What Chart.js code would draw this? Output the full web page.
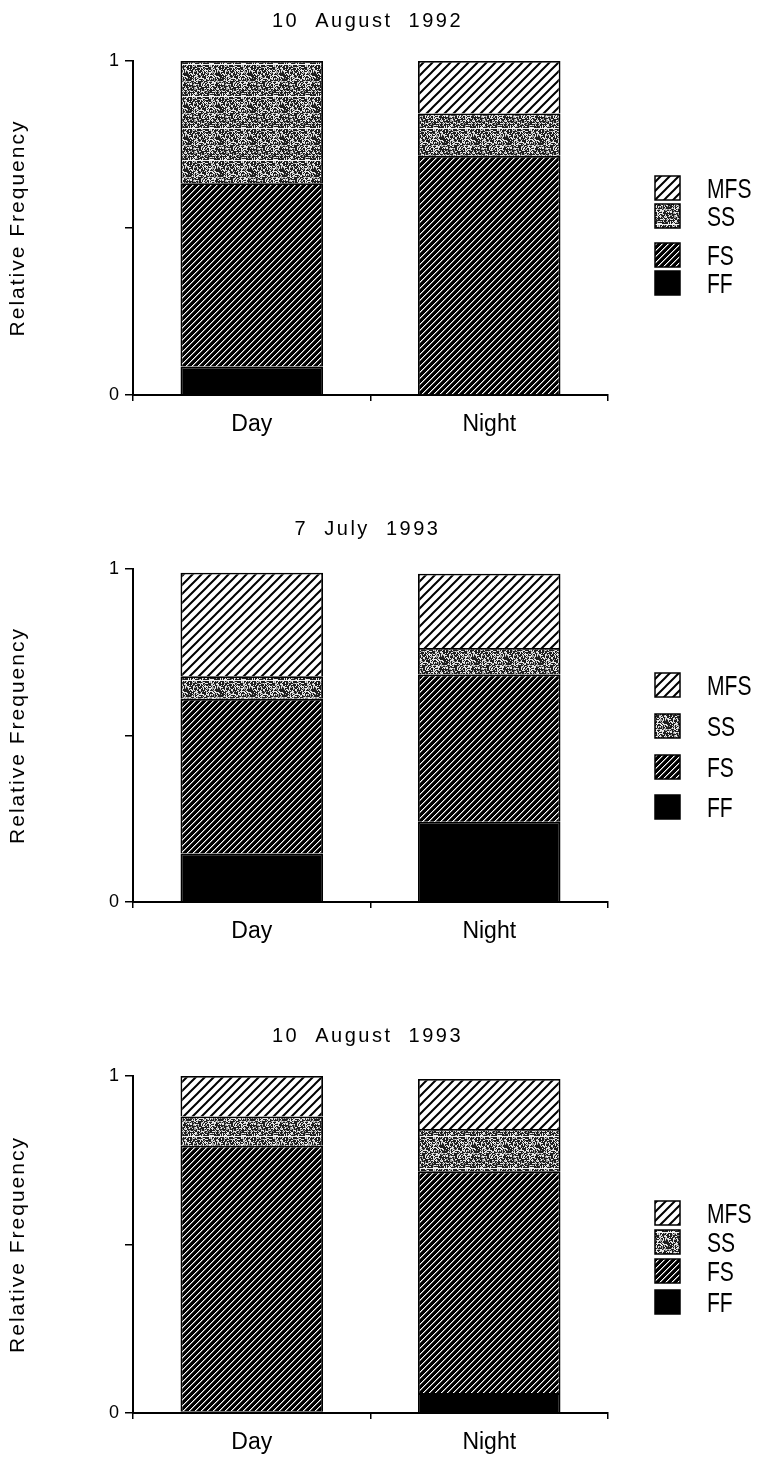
<!DOCTYPE html>
<html>
<head>
<meta charset="utf-8">
<script src="https://cdn.jsdelivr.net/npm/chart.js@4.4.1/dist/chart.umd.min.js"></script>
<style>
  html, body { margin: 0; padding: 0; background: #fff; }
  #page { position: relative; width: 760px; height: 1463px; overflow: hidden; }
  .panel { position: absolute; left: 0; width: 760px; }
  canvas { display: block; }
</style>
</head>
<body>
<div id="page">
  <div class="panel" style="top:0px"><canvas id="c0" width="760" height="488"></canvas></div>
  <div class="panel" style="top:488px"><canvas id="c1" width="760" height="488"></canvas></div>
  <div class="panel" style="top:976px"><canvas id="c2" width="760" height="487"></canvas></div>
</div>
<script>
// categories and series
const categories = ['Day', 'Night'];
const seriesNames = ['FF', 'FS', 'SS', 'MFS'];
const panelTitles = ['10  August  1992', '7  July  1993', '10  August  1993'];

// relative frequency per category (Day, Night)
const ffAug92 = [0.085, 0.0];
const fsAug92 = [0.549, 0.716];
const ssAug92 = [0.366, 0.127];
const mfsAug92 = [0.0, 0.157];

const ffJul93 = [0.146, 0.241];
const fsJul93 = [0.464, 0.442];
const ssJul93 = [0.068, 0.080];
const mfsJul93 = [0.311, 0.223];

const ffAug93 = [0.005, 0.059];
const fsAug93 = [0.788, 0.658];
const ssAug93 = [0.087, 0.126];
const mfsAug93 = [0.120, 0.148];

const yTicks = [0, 1];

const panelData = [
  [ffAug92, fsAug92, ssAug92, mfsAug92],
  [ffJul93, fsJul93, ssJul93, mfsJul93],
  [ffAug93, fsAug93, ssAug93, mfsAug93]
];

// layout of each canvas: plot top / bottom and legend row centres (canvas px)
const layouts = [
  { h: 488, top: 61, bottom: 395, legendY: [283, 255, 216, 188] },
  { h: 488, top: 81, bottom: 414, legendY: [319, 279, 238, 197] },
  { h: 487, top: 100, bottom: 437, legendY: [326, 295, 266, 237] }
];

const FONT = '"Liberation Sans", Arial, Helvetica, sans-serif';

// ---- fill patterns ----
function makeTile(w, h, draw) {
  const c = document.createElement('canvas');
  c.width = w; c.height = h;
  const g = c.getContext('2d');
  draw(g);
  return document.createElement('canvas').getContext('2d').createPattern(c, 'repeat');
}

// open diagonal hatch (white with black lines)
const hatchOpen = makeTile(9, 9, g => {
  g.fillStyle = '#fff';
  g.fillRect(0, 0, 9, 9);
  g.strokeStyle = '#000';
  g.lineWidth = 2;
  g.beginPath();
  g.moveTo(-1, 10); g.lineTo(10, -1);
  g.moveTo(-1, 1); g.lineTo(1, -1);
  g.moveTo(8, 10); g.lineTo(10, 8);
  g.stroke();
});

// dense diagonal hatch: black with thin white diagonals
const hatchDense = makeTile(6, 6, g => {
  g.fillStyle = '#000';
  g.fillRect(0, 0, 6, 6);
  for (let i = 0; i < 6; i++) {
    g.fillStyle = '#fff';
    g.fillRect(i, 5 - i, 1, 1);
    g.fillStyle = '#777';
    g.fillRect((i + 1) % 6, 5 - i, 1, 1);
  }
});

// dark grey stipple with faint horizontal streaks
const stipple = makeTile(32, 32, g => {
  g.fillStyle = '#1e1e1e';
  g.fillRect(0, 0, 32, 32);
  let s = 12345;
  for (let y = 0; y < 32; y++) {
    for (let x = 0; x < 32; x++) {
      s = (s * 1103515245 + 12345) & 0x7fffffff;
      const r = (s >> 8) % 100;
      if (r < 28) { g.fillStyle = '#e8e8e8'; g.fillRect(x, y, 1, 1); }
      else if (r < 45) { g.fillStyle = '#9a9a9a'; g.fillRect(x, y, 1, 1); }
    }
  }
  g.fillStyle = '#f4f4f4';
  g.fillRect(0, 0, 32, 1);
});

const fills = ['#000', hatchDense, stipple, hatchOpen];

// ---- title, axis title and legend drawn around the plot ----
const panelDecor = {
  id: 'panelDecor',
  afterDraw(chart, args, opts) {
    const ctx = chart.ctx;
    const area = chart.chartArea;
    ctx.save();
    ctx.fillStyle = '#000';

    // panel title
    ctx.font = '20px ' + FONT;
    ctx.letterSpacing = '2.5px';
    ctx.textAlign = 'center';
    ctx.textBaseline = 'middle';
    ctx.fillText(opts.title, (area.left + area.right) / 2 - 3, area.top - 40);

    // y axis title
    ctx.save();
    ctx.translate(18, (area.top + area.bottom) / 2);
    ctx.rotate(-Math.PI / 2);
    ctx.font = '21px ' + FONT;
    ctx.letterSpacing = '2px';
    ctx.fillText('Relative Frequency', 0, 0);
    ctx.restore();

    // legend
    ctx.letterSpacing = '0px';
    ctx.textAlign = 'left';
    ctx.textBaseline = 'alphabetic';
    chart.data.datasets.forEach((ds, i) => {
      const cy = opts.legendY[i];
      ctx.fillStyle = ds.backgroundColor;
      ctx.fillRect(655, cy - 12, 25, 24);
      ctx.strokeStyle = '#000';
      ctx.lineWidth = 1.5;
      ctx.strokeRect(655, cy - 12, 25, 24);
      ctx.save();
      ctx.translate(707, cy + 10);
      ctx.scale(0.78, 1);
      ctx.fillStyle = '#000';
      ctx.font = '27px ' + FONT;
      ctx.fillText(ds.label, 0, 0);
      ctx.restore();
    });
    ctx.restore();
  }
};

function buildPanel(idx) {
  const lay = layouts[idx];
  const data = panelData[idx];
  const ctx = document.getElementById('c' + idx).getContext('2d');

  const datasets = seriesNames.map((name, i) => ({
    label: name,
    data: data[i],
    backgroundColor: fills[i],
    borderColor: '#000',
    borderWidth: 1.8,
    categoryPercentage: 1.0,
    barPercentage: 0.6
  }));

  return new Chart(ctx, {
    type: 'bar',
    data: { labels: categories, datasets: datasets },
    options: {
      responsive: false,
      animation: false,
      events: [],
      layout: { padding: { top: lay.top, right: 152, left: 0, bottom: 0 } },
      plugins: {
        legend: { display: false },
        title: { display: false },
        tooltip: { enabled: false },
        panelDecor: { title: panelTitles[idx], legendY: lay.legendY }
      },
      scales: {
        x: {
          stacked: true,
          afterFit: s => { s.height = lay.h - lay.bottom; },
          grid: {
            drawOnChartArea: false,
            drawTicks: true,
            tickLength: 6,
            color: '#000',
            lineWidth: 1.5
          },
          border: { display: true, color: '#000', width: 2 },
          ticks: {
            color: '#000',
            padding: 10,
            font: { family: FONT, size: 23 }
          }
        },
        y: {
          stacked: true,
          min: 0,
          max: 1,
          afterFit: s => { s.width = 133; },
          afterBuildTicks: s => {
            s.ticks = [0, 0.5, 1].map(v => ({ value: v }));
          },
          grid: {
            drawOnChartArea: false,
            drawTicks: true,
            tickLength: 8,
            color: '#000',
            lineWidth: 1.5
          },
          border: { display: true, color: '#000', width: 2 },
          ticks: {
            color: '#000',
            padding: 6,
            font: { family: FONT, size: 18 },
            callback: v => (yTicks.includes(v) ? String(v) : '')
          }
        }
      }
    },
    plugins: [panelDecor]
  });
}

[0, 1, 2].forEach(buildPanel);
</script>
</body>
</html>
